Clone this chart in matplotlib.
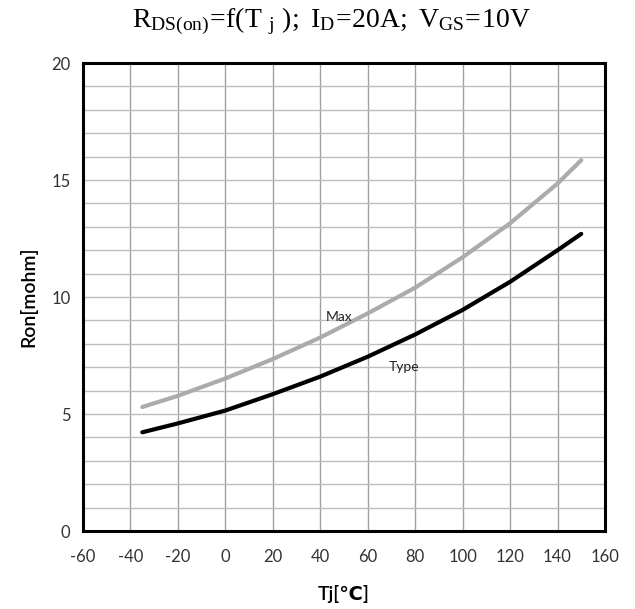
import matplotlib
matplotlib.use("Agg")
import matplotlib.pyplot as plt

# values
temps = [-35, -20, 0, 20, 40, 60, 80, 100, 120, 140, 150]
r_max = [5.3, 5.78, 6.52, 7.35, 8.27, 9.3, 10.4, 11.7, 13.15, 14.85, 15.85]
r_typ = [4.22, 4.6, 5.15, 5.85, 6.6, 7.45, 8.4, 9.45, 10.65, 12.0, 12.7]

x_ticks = list(range(-60, 161, 20))
y_ticks = [0, 5, 10, 15, 20]

plt.rcParams['mathtext.fontset'] = 'custom'
plt.rcParams['mathtext.rm'] = 'Liberation Serif'
plt.rcParams['mathtext.it'] = 'Liberation Serif'
plt.rcParams['axes.unicode_minus'] = False

fig = plt.figure(figsize=(6.35, 6.09), dpi=100)
ax = fig.add_axes([0.1307, 0.128, 0.822, 0.7685])

ax.plot(temps, r_max, color='#ababab', lw=3, solid_capstyle='round')
ax.plot(temps, r_typ, color='black', lw=3, solid_capstyle='round')

ax.text(42.5, 9.15, 'Max', fontsize=10, family=['Lato', 'DejaVu Sans'], va='center', color='#222222')
ax.text(69, 7.03, 'Type', fontsize=10, family=['Lato', 'DejaVu Sans'], va='center', color='#222222')

ax.set_xlim(-60, 160)
ax.set_ylim(0, 20)
ax.set_xticks(x_ticks)
ax.set_yticks(y_ticks)
ax.set_yticks(range(0, 21), minor=True)
ax.grid(True, which='major', axis='x', color='#a0a0a0', lw=1)
ax.grid(True, which='both', axis='y', color='#bdbdbd', lw=1)
ax.tick_params(which='both', length=0)
ax.tick_params(axis='x', pad=13)
ax.tick_params(axis='y', pad=9)
for lab in ax.get_xticklabels() + ax.get_yticklabels():
    lab.set_family(['Lato', 'DejaVu Sans'])
    lab.set_fontsize(12)
    lab.set_color('#333333')
for sp in ax.spines.values():
    sp.set_linewidth(2.2)
    sp.set_color('black')

ax.set_xlabel('Tj[℃]', fontsize=14, family=['Lato', 'DejaVu Sans'], fontweight='semibold', labelpad=14)
ax.set_ylabel('Ron[mohm]', fontsize=14, family=['Lato', 'DejaVu Sans'], fontweight='semibold', labelpad=10)

fig.text(0.522, 0.965, r'$\mathrm{R_{DS(on)}\!=\!f(T\ _{j}\ );\ I_{D}\!=\!20A;\ V_{GS}\!=\!10V}$',
         fontsize=20, ha='center', va='center')

fig.savefig('out.png', dpi=100)
